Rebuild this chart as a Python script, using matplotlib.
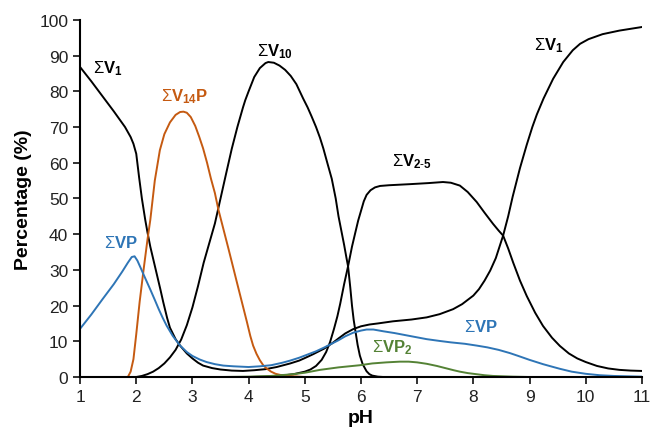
import matplotlib
matplotlib.use('Agg')
import matplotlib.pyplot as plt

plt.rcParams['font.family'] = ['Liberation Sans', 'DejaVu Sans']
plt.rcParams['mathtext.fontset'] = 'custom'
plt.rcParams['mathtext.rm'] = 'Liberation Sans'
plt.rcParams['mathtext.bf'] = 'Liberation Sans:bold'
plt.rcParams['mathtext.it'] = 'Liberation Sans:italic'

# ΣV1 (falls at low pH, rises again above pH 6)
v1_ph = [1.0, 1.2, 1.4, 1.6, 1.8, 1.9, 1.95, 2.0, 2.05, 2.1, 2.16, 2.2, 2.25, 2.31, 2.37, 2.43,
         2.48, 2.55, 2.6, 2.7, 2.78, 2.9, 3.0, 3.1, 3.19, 3.35, 3.5, 3.7, 3.9, 4.1, 4.3, 4.5,
         4.74, 4.9, 5.0, 5.15, 5.35, 5.5, 5.6, 5.72, 5.86, 6.0, 6.15, 6.3, 6.57, 6.9, 7.17, 7.4,
         7.64, 7.8, 8.0, 8.1, 8.2, 8.3, 8.4, 8.53, 8.62, 8.7, 8.83, 8.95, 9.05, 9.13, 9.25, 9.42,
         9.6, 9.77, 9.9, 10.05, 10.3, 10.6, 11.0]
v1_val = [86.8, 82.8, 78.6, 74.4, 70.0, 67.2, 65.3, 62.5, 56.0, 50.0, 44.0, 40.5, 36.5, 32.5, 28.5, 24.5,
          21.0, 16.5, 13.8, 10.6, 8.8, 6.6, 5.2, 4.0, 3.2, 2.5, 2.1, 1.8, 1.7, 1.9, 2.2, 2.8,
          3.8, 4.6, 5.3, 6.4, 8.0, 9.6, 10.8, 12.2, 13.4, 14.2, 14.7, 15.0, 15.6, 16.1, 16.7, 17.6,
          19.0, 20.4, 22.8, 24.6, 27.0, 29.8, 33.3, 39.6, 45.0, 50.5, 58.5, 65.0, 70.0, 73.5, 78.0, 83.5,
          88.2, 91.5, 93.3, 94.6, 96.0, 97.0, 98.0]

# ΣV14P
v14p_ph = [1.85, 1.9, 1.95, 2.0, 2.06, 2.13, 2.2, 2.25, 2.33, 2.42, 2.5, 2.6, 2.7, 2.78, 2.84, 2.9,
           2.97, 3.05, 3.12, 3.19, 3.26, 3.33, 3.4, 3.46, 3.55, 3.64, 3.72, 3.79, 3.88, 3.97, 4.03,
           4.08, 4.14, 4.2, 4.26, 4.32, 4.4, 4.48, 4.56, 4.7, 4.85, 5.0]
v14p_val = [0.0, 1.5, 5.0, 12.0, 21.0, 30.0, 38.5, 44.0, 55.0, 63.5, 68.0, 71.3, 73.4, 74.2, 74.3, 74.0,
            72.8, 70.3, 67.3, 64.0, 60.0, 55.5, 51.5, 47.0, 41.5, 36.0, 31.0, 26.6, 21.0, 15.4, 11.5,
            8.8, 6.5, 4.7, 3.3, 2.4, 1.5, 0.9, 0.6, 0.3, 0.15, 0.0]

# ΣV10
v10_ph = [2.0, 2.1, 2.2, 2.3, 2.4, 2.5, 2.6, 2.7, 2.8, 2.9, 3.0, 3.1, 3.2, 3.3, 3.4, 3.5,
          3.6, 3.7, 3.8, 3.9, 3.94, 4.0, 4.1, 4.2, 4.3, 4.35, 4.45, 4.55, 4.65, 4.75, 4.85, 4.97,
          5.05, 5.12, 5.2, 5.27, 5.33, 5.4, 5.48, 5.55, 5.6, 5.65, 5.7, 5.74, 5.77, 5.81, 5.84, 5.87,
          5.9, 5.94, 5.98, 6.03, 6.1, 6.15, 6.2, 6.3, 6.4]
v10_val = [0.0, 0.3, 0.8, 1.5, 2.5, 3.8, 5.5, 7.6, 10.5, 14.5, 19.5, 25.5, 32.0, 37.5, 43.0, 50.0,
           57.0, 63.9, 70.0, 75.5, 77.5, 80.0, 84.0, 86.5, 87.9, 88.2, 88.0, 87.2, 86.0, 84.3, 82.0, 78.0,
           75.5, 73.0, 70.0, 67.0, 64.0, 60.0, 55.5, 50.0, 45.0, 41.0, 37.0, 33.5, 31.0, 25.0, 20.0, 16.0,
           13.0, 9.0, 6.0, 3.6, 1.6, 0.8, 0.4, 0.1, 0.0]

# ΣV2-5
v25_ph = [4.0, 4.3, 4.6, 4.8, 5.0, 5.1, 5.2, 5.3, 5.38, 5.45, 5.52, 5.58, 5.63, 5.7, 5.77, 5.84,
          5.9, 5.95, 6.0, 6.05, 6.1, 6.17, 6.25, 6.34, 6.5, 6.87, 7.2, 7.46, 7.6, 7.76, 7.9, 8.06,
          8.2, 8.35, 8.45, 8.53, 8.62, 8.71, 8.83, 8.95, 9.1, 9.24, 9.4, 9.54, 9.7, 9.85, 10.0, 10.2,
          10.4, 10.6, 10.8, 11.0]
v25_val = [0.0, 0.1, 0.4, 0.8, 1.5, 2.1, 3.1, 4.8, 7.0, 9.8, 13.5, 17.0, 20.5, 26.0, 31.0, 36.5,
           40.5, 43.8, 46.5, 49.2, 51.0, 52.3, 53.1, 53.5, 53.7, 54.0, 54.3, 54.6, 54.4, 53.6, 51.8, 49.0,
           46.0, 42.9, 41.0, 39.6, 36.0, 32.0, 27.0, 22.7, 18.0, 14.3, 11.0, 8.7, 6.6, 5.2, 4.2, 3.1,
           2.4, 2.0, 1.8, 1.7]

# ΣVP
vp_ph = [1.0, 1.2, 1.4, 1.6, 1.75, 1.85, 1.92, 1.97, 2.02, 2.08, 2.15, 2.25, 2.33, 2.4, 2.47, 2.54,
         2.65, 2.78, 2.9, 3.0, 3.13, 3.25, 3.4, 3.55, 3.73, 4.0, 4.2, 4.4, 4.6, 4.74, 4.9, 5.0,
         5.2, 5.35, 5.5, 5.6, 5.72, 5.86, 6.0, 6.1, 6.22, 6.4, 6.6, 6.9, 7.17, 7.4, 7.6, 7.85,
         8.06, 8.25, 8.45, 8.65, 8.8, 9.0, 9.12, 9.24, 9.4, 9.54, 9.75, 10.0, 10.25, 10.5, 11.0]
vp_val = [13.5, 17.5, 21.8, 26.0, 29.5, 32.0, 33.6, 33.8, 32.6, 30.5, 28.0, 24.5, 21.6, 19.0, 16.6, 14.4,
          11.5, 8.8, 7.0, 5.9, 4.9, 4.2, 3.6, 3.2, 3.0, 2.8, 3.0, 3.3, 4.0, 4.6, 5.4, 6.0,
          7.2, 8.3, 9.5, 10.3, 11.4, 12.4, 13.0, 13.3, 13.3, 12.8, 12.3, 11.4, 10.6, 10.1, 9.7, 9.3,
          8.8, 8.3, 7.6, 6.7, 5.9, 4.8, 4.2, 3.6, 2.9, 2.3, 1.5, 0.9, 0.5, 0.3, 0.1]

# ΣVP2
vp2_ph = [3.5, 4.0, 4.4, 4.8, 5.0, 5.27, 5.6, 5.98, 6.2, 6.45, 6.69, 6.85, 7.0, 7.17, 7.35, 7.5,
          7.65, 7.76, 7.9, 8.0, 8.2, 8.35, 8.7, 9.0]
vp2_val = [0.0, 0.1, 0.3, 0.8, 1.2, 2.0, 2.7, 3.3, 3.8, 4.1, 4.3, 4.3, 4.1, 3.7, 3.1, 2.5,
           1.9, 1.5, 1.1, 0.9, 0.5, 0.3, 0.1, 0.0]

orange = '#C55A11'
blue = '#2E75B6'
green = '#548235'

fig = plt.figure(figsize=(6.51, 4.35), dpi=100)
ax = fig.add_axes([0.123, 0.131, 0.863, 0.821])

lw = 1.4
ax.plot(v1_ph, v1_val, color='black', lw=lw)
ax.plot(v10_ph, v10_val, color='black', lw=lw)
ax.plot(v25_ph, v25_val, color='black', lw=lw)
ax.plot(v14p_ph, v14p_val, color=orange, lw=lw)
ax.plot(vp_ph, vp_val, color=blue, lw=lw)
ax.plot(vp2_ph, vp2_val, color=green, lw=lw)

ax.set_xlim(1, 11)
ax.set_ylim(0, 100)
ax.set_xticks(range(1, 12))
ax.set_yticks(range(0, 101, 10))
ax.tick_params(labelsize=12.5, length=5, width=1.3, direction='out', colors='#222222')
for s in ['top', 'right']:
    ax.spines[s].set_visible(False)
for s in ['left', 'bottom']:
    ax.spines[s].set_linewidth(1.5)

ax.set_xlabel('pH', fontsize=14, fontweight='bold', labelpad=4)
ax.set_ylabel('Percentage (%)', fontsize=14, fontweight='bold', labelpad=5)

fs = 12
ax.text(1.49, 86.5, r'$\Sigma\mathbf{V_{1}}$', color='black', fontsize=fs, ha='center', va='center')
ax.text(2.87, 78.8, r'$\Sigma\mathbf{V_{14}P}$', color=orange, fontsize=fs, ha='center', va='center')
ax.text(4.47, 91.5, r'$\Sigma\mathbf{V_{10}}$', color='black', fontsize=fs, ha='center', va='center')
ax.text(6.9, 60.5, r'$\Sigma\mathbf{V_{2\text{-}5}}$', color='black', fontsize=fs, ha='center', va='center')
ax.text(9.35, 93.0, r'$\Sigma\mathbf{V_{1}}$', color='black', fontsize=fs, ha='center', va='center')
ax.text(1.73, 37.8, r'$\Sigma\mathbf{VP}$', color=blue, fontsize=fs, ha='center', va='center')
ax.text(8.14, 14.2, r'$\Sigma\mathbf{VP}$', color=blue, fontsize=fs, ha='center', va='center')
ax.text(6.55, 8.5, r'$\Sigma\mathbf{VP_{2}}$', color=green, fontsize=fs, ha='center', va='center')

fig.savefig('out.png', dpi=100)
